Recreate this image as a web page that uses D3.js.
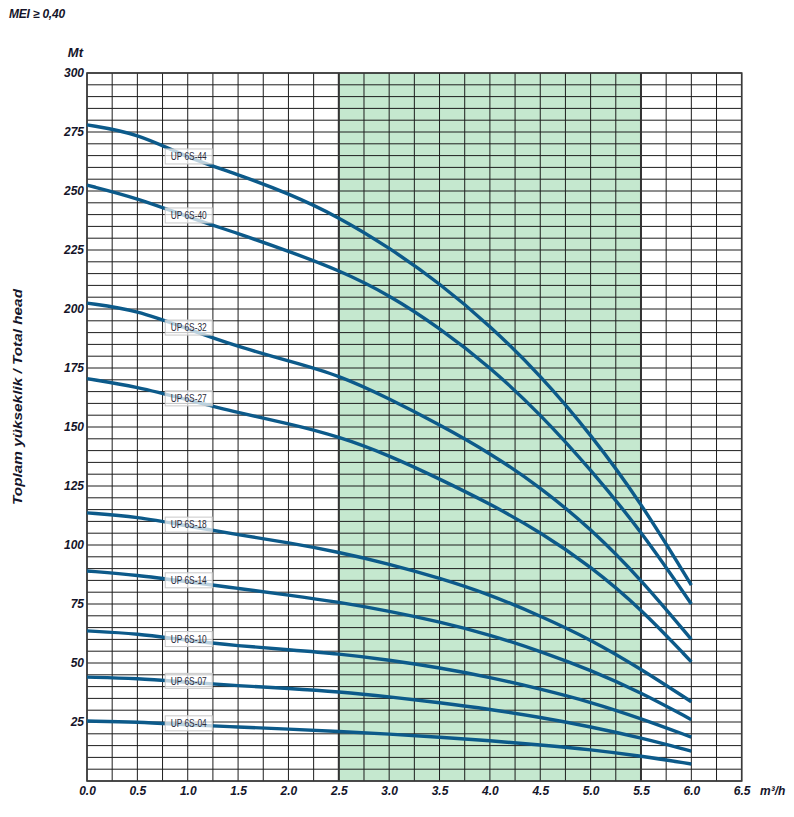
<!DOCTYPE html>
<html>
<head>
<meta charset="utf-8">
<script src="https://cdn.jsdelivr.net/npm/d3@7"></script>
<style>
  html, body { margin: 0; padding: 0; background: #fff; }
  svg { display: block; }
</style>
</head>
<body>
<svg id="chart" width="794" height="817"></svg>
<script>
// ---- data ----
const flow = [0, 0.5, 1, 1.5, 2, 2.5, 3, 3.5, 4, 4.5, 5, 5.5, 6];
const pumpNames = ["UP 6S-44", "UP 6S-40", "UP 6S-32", "UP 6S-27", "UP 6S-18", "UP 6S-14", "UP 6S-10", "UP 6S-07", "UP 6S-04"];
const head44 = [278, 274.5, 264, 257, 249, 239, 226, 211, 193, 172, 147, 118, 83];
const head40 = [252.5, 247, 239, 232, 224.5, 216.5, 206, 192, 175.5, 155.5, 132, 106, 75];
const head32 = [202.5, 199.5, 191.5, 184, 178, 172, 162, 151, 139, 124.5, 107, 85.5, 60];
const head27 = [170.5, 167, 161.5, 156, 151.5, 146, 138, 128, 117.5, 105.5, 91, 73, 50.5];
const head18 = [113.6, 112, 108, 104.3, 101, 97, 92, 86, 79, 70, 60, 47.5, 33.6];
const head14 = [89, 87.3, 84.4, 81.6, 78.8, 75.8, 72, 67.5, 62, 55, 47, 37.5, 26];
const head10 = [63.6, 62.5, 59.5, 57.3, 55.6, 53.9, 51.3, 48, 44, 39, 33.5, 26.5, 18.6];
const head07 = [44, 43.5, 41.8, 40.4, 39.2, 37.8, 35.7, 33.2, 30.4, 27, 23, 18.3, 12.7];
const head04 = [25.4, 25, 23.8, 22.9, 22, 21, 19.9, 18.6, 17.1, 15.3, 13.3, 10.6, 7.2];
const headSeries = [head44, head40, head32, head27, head18, head14, head10, head07, head04];
const xTicks = [0, 0.5, 1, 1.5, 2, 2.5, 3, 3.5, 4, 4.5, 5, 5.5, 6, 6.5];
const yTicks = [25, 50, 75, 100, 125, 150, 175, 200, 225, 250, 275, 300];
const bandRange = [2.5, 5.5];
const labelFlow = 1.0;

// ---- layout ----
const svg = d3.select("#chart");
const x = d3.scaleLinear().domain([0, 6.5]).range([87, 741.7]);
const y = d3.scaleLinear().domain([0, 300]).range([781, 73]);

const tickFont = "'Liberation Sans', Arial, sans-serif";
const ink = "#15152a";

// green band
svg.append("rect")
  .attr("x", x(bandRange[0])).attr("y", y(300))
  .attr("width", x(bandRange[1]) - x(bandRange[0]))
  .attr("height", y(0) - y(300))
  .attr("fill", "#c5e8cf");

// grid
const grid = svg.append("g");
grid.selectAll("line.h").data(d3.range(0, 301, 5)).join("line")
  .attr("x1", x(0)).attr("x2", x(6.5))
  .attr("y1", d => y(d)).attr("y2", d => y(d))
  .attr("stroke", "#1e1e1e").attr("stroke-width", 1);
grid.selectAll("line.v").data(d3.range(0, 26.01, 1).map(i => i * 0.25)).join("line")
  .attr("y1", y(0)).attr("y2", y(300))
  .attr("x1", d => x(d)).attr("x2", d => x(d))
  .attr("stroke", "#1e1e1e").attr("stroke-width", 1);
// band borders
grid.selectAll("line.b").data(bandRange).join("line")
  .attr("y1", y(0)).attr("y2", y(300))
  .attr("x1", d => x(d)).attr("x2", d => x(d))
  .attr("stroke", "#333").attr("stroke-width", 2);
// frame
svg.append("rect")
  .attr("x", x(0)).attr("y", y(300))
  .attr("width", x(6.5) - x(0)).attr("height", y(0) - y(300))
  .attr("fill", "none").attr("stroke", "#3a3a3a").attr("stroke-width", 1.6);

// curves
const line = d3.line().x(d => x(d[0])).y(d => y(d[1])).curve(d3.curveBasis);
svg.append("g").selectAll("path").data(headSeries).join("path")
  .attr("d", s => line(flow.map((f, i) => [f, s[i]])))
  .attr("fill", "none").attr("stroke", "#0c5a8a").attr("stroke-width", 3.4);

// labels
const li = flow.indexOf(labelFlow);
const labels = svg.append("g");
pumpNames.forEach((name, k) => {
  const cx = x(labelFlow) + 1;
  const cy = y(headSeries[k][li]) - 1.5;
  const g = labels.append("g");
  g.append("rect")
    .attr("x", cx - 23.5).attr("y", cy - 7.5).attr("width", 47).attr("height", 15)
    .attr("fill", "#ffffff").attr("fill-opacity", 0.72)
    .attr("stroke", "#c8c8c8").attr("stroke-width", 1);
  g.append("text")
    .attr("x", cx - 18).attr("y", cy).attr("dy", "0.35em")
    .attr("textLength", 36).attr("lengthAdjust", "spacingAndGlyphs")
    .attr("font-family", tickFont)
    .attr("font-size", 11).attr("fill", "#2a2a3a")
    .text(name);
});

// y axis ticks
const yAxis = svg.append("g").attr("transform", `translate(${x(0) - 3},0)`)
  .call(d3.axisLeft(y).tickValues(yTicks).tickSize(0).tickPadding(0).tickFormat(d3.format("d")));
yAxis.select(".domain").remove();
yAxis.selectAll("text")
  .attr("font-family", tickFont).attr("font-size", 12)
  .attr("font-weight", "bold").attr("font-style", "italic").attr("fill", ink);

// x axis ticks
const xAxis = svg.append("g").attr("transform", `translate(0,${y(0)})`)
  .call(d3.axisBottom(x).tickValues(xTicks).tickSize(0).tickPadding(5).tickFormat(d3.format(".1f")));
xAxis.select(".domain").remove();
xAxis.selectAll("text")
  .attr("font-family", tickFont).attr("font-size", 12)
  .attr("font-weight", "bold").attr("font-style", "italic").attr("fill", ink);

// titles
function label(t, px, py, anchor, size) {
  return svg.append("text").attr("x", px).attr("y", py).attr("dy", "0.35em")
    .attr("text-anchor", anchor)
    .attr("font-family", tickFont).attr("font-size", size)
    .attr("font-weight", "bold").attr("font-style", "italic").attr("fill", ink)
    .text(t);
}
label("MEI ≥ 0,40", 9, 13.5, "start", 12).attr("letter-spacing", -0.2);
label("Mt", 83, 52.5, "end", 13);
label("m³/h", 760, 791, "start", 12);
svg.append("text")
  .attr("transform", `translate(17,397) rotate(-90)`)
  .attr("dy", "0.35em").attr("text-anchor", "middle")
  .attr("textLength", 216).attr("lengthAdjust", "spacingAndGlyphs")
  .attr("font-family", tickFont).attr("font-size", 13)
  .attr("font-weight", "bold").attr("font-style", "italic").attr("fill", ink)
  .text("Toplam yükseklik / Total head");
</script>
</body>
</html>
